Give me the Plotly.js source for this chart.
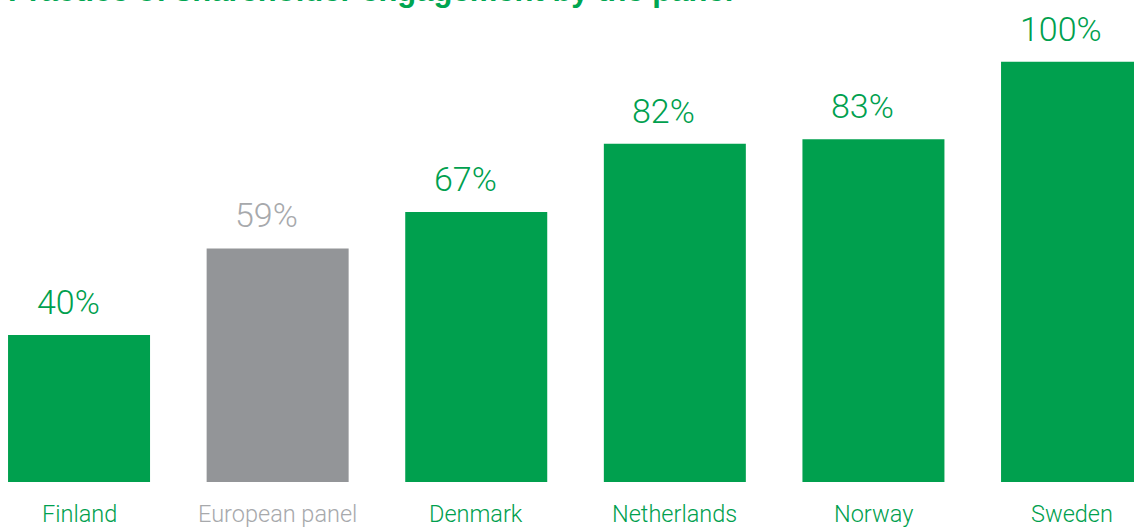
<!DOCTYPE html>
<html>
<head>
<meta charset="utf-8">
<script src="https://cdn.plot.ly/plotly-3.0.1.min.js"></script>
<style>html,body{margin:0;padding:0;background:#fff;}#chart{width:1134px;height:529px;}</style>
</head>
<body>
<div id="chart"></div>
<script>
var categories = ["Finland", "European panel", "Denmark", "Netherlands", "Norway", "Sweden"];
var values = [40, 59, 67, 82, 83, 100];
var valueLabels = ["40%", "59%", "67%", "82%", "83%", "100%"];
var barColors = ["#00A04E", "#939598", "#00A04E", "#00A04E", "#00A04E", "#00A04E"];
var labelColors = ["#00A04E", "#A7A9AC", "#00A04E", "#00A04E", "#00A04E", "#00A04E"];
var titleText = "Practice of shareholder engagement by the panel";

var xs = categories.map(function(c, i){ return i; });

var annotations = [];
values.forEach(function(v, i){
  annotations.push({
    x: i, y: v, xref: 'x', yref: 'y',
    text: valueLabels[i], showarrow: false,
    yanchor: 'bottom', xanchor: 'center', xshift: -11, yshift: 11,
    font: {family: 'Roboto, "Liberation Sans", sans-serif', size: 34, weight: 300, color: labelColors[i]}
  });
  annotations.push({
    x: i, y: 0, xref: 'x', yref: 'paper',
    text: categories[i], showarrow: false,
    yanchor: 'top', xanchor: 'center', yshift: -16,
    font: {family: 'Roboto, "Liberation Sans", sans-serif', size: 23.5, weight: 300, color: labelColors[i]}
  });
});
annotations.push({
  x: 0, y: 1, xref: 'paper', yref: 'paper', xanchor: 'left', yanchor: 'bottom',
  xshift: 6, yshift: 30,
  text: '<b>' + titleText + '</b>', showarrow: false,
  font: {family: '"Liberation Sans", Arial, sans-serif', size: 31, color: '#00A651'}
});

var trace = {
  type: 'bar', x: xs, y: values, width: 0.715,
  marker: {color: barColors, line: {width: 0}},
  hoverinfo: 'skip'
};

var layout = {
  width: 1134, height: 529,
  margin: {l: 0, r: 0, t: 40, b: 47, pad: 0},
  paper_bgcolor: '#fff', plot_bgcolor: '#fff',
  showlegend: false,
  xaxis: {range: [-0.398, 5.312], showticklabels: false, showgrid: false, zeroline: false, showline: false, ticks: ''},
  yaxis: {range: [7.7, 104.8], showticklabels: false, showgrid: false, zeroline: false, showline: false, ticks: ''},
  annotations: annotations
};

Plotly.newPlot('chart', [trace], layout, {displayModeBar: false, staticPlot: true});
</script>
</body>
</html>
